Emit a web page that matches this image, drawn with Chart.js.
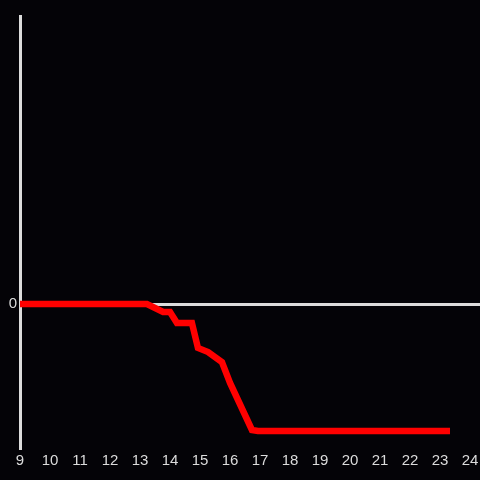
<!DOCTYPE html>
<html>
<head>
<meta charset="utf-8">
<script src="https://cdn.jsdelivr.net/npm/chart.js@4"></script>
<style>
  html, body { margin: 0; padding: 0; background: #040307; }
  #wrap { width: 480px; height: 480px; }
</style>
</head>
<body>
<div id="wrap"><canvas id="chart"></canvas></div>
<script>
// time of day (hours) and level
const hours = [9, 13.23, 13.77, 14.0, 14.23, 14.73, 14.93, 15.27, 15.73, 16.0, 16.73, 16.93, 23.33];
const levels = [0, 0, -0.63, -0.63, -1.5, -1.5, -3.46, -3.78, -4.57, -6.22, -9.92, -10, -10];
const xTicks = [9, 10, 11, 12, 13, 14, 15, 16, 17, 18, 19, 20, 21, 22, 23, 24];
const yTicks = [0];

const axisColor = '#dcdcdc';

new Chart(document.getElementById('chart'), {
    type: 'line',
    data: {
        datasets: [{
            data: hours.map((h, i) => ({ x: h, y: levels[i] })),
            borderColor: '#ff0000',
            borderWidth: 6.5,
            pointRadius: 0,
            tension: 0,
            fill: false
        }]
    },
    options: {
        responsive: true,
        maintainAspectRatio: false,
        animation: false,
        layout: { padding: { top: 16, right: 0, left: 0, bottom: 0 } },
        plugins: {
            legend: { display: false },
            tooltip: { enabled: false }
        },
        scales: {
            x: {
                type: 'linear',
                min: 9,
                max: 24.33,
                afterBuildTicks: s => { s.ticks = xTicks.map(v => ({ value: v })); },
                grid: { display: false, drawTicks: false },
                border: { display: false },
                ticks: {
                    color: axisColor,
                    font: { family: 'Liberation Sans', size: 15 },
                    padding: 4,
                    maxRotation: 0,
                    autoSkip: false
                },
                afterFit: s => { s.height = 32; s.paddingRight = 0; s.paddingLeft = 0; }
            },
            y: {
                min: -11.34,
                max: 22.68,
                afterBuildTicks: s => { s.ticks = yTicks.map(v => ({ value: v })); },
                grid: {
                    color: ctx => ctx.tick && ctx.tick.value === 0 ? axisColor : 'rgba(0,0,0,0)',
                    lineWidth: 3,
                    drawTicks: false
                },
                border: { display: true, color: axisColor, width: 3 },
                ticks: {
                    color: axisColor,
                    font: { family: 'Liberation Sans', size: 15 },
                    padding: 3
                },
                afterFit: s => { s.width = 20; }
            }
        }
    }
});
</script>
</body>
</html>
